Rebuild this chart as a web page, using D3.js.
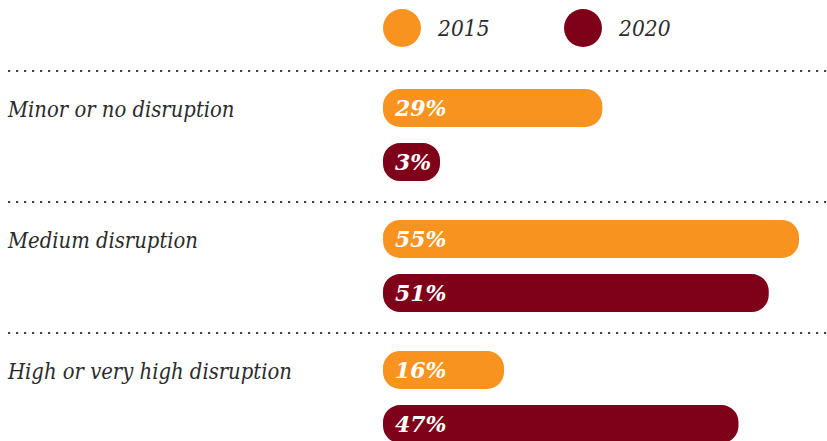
<!DOCTYPE html>
<html>
<head>
<meta charset="utf-8">
<script src="https://cdn.jsdelivr.net/npm/d3@7"></script>
<style>
  body { margin: 0; background: #fff; }
  svg text { font-family: "DejaVu Serif", serif; }
  svg text.cat { font-family: "DejaVu Serif Condensed", "DejaVu Serif", serif; font-stretch: condensed; }
</style>
</head>
<body>
<div id="chart"></div>
<script>
const categories = ["Minor or no disruption", "Medium disruption", "High or very high disruption"];
const years = ["2015", "2020"];
const values2015 = [29, 55, 16];
const values2020 = [3, 51, 47];

const colors = { "2015": "#f7931e", "2020": "#7f0019" };

const width = 827, height = 441;
const svg = d3.select("#chart").append("svg")
  .attr("width", width)
  .attr("height", height);

// rows start at each dotted divider
const y0 = d3.scaleBand()
  .domain(categories)
  .range([70, 70 + 131 * 3]);

const y1 = d3.scaleBand()
  .domain(years)
  .range([19, 111])
  .paddingInner(0.3);

const x = d3.scaleLinear()
  .domain([0, 55])
  .range([0, 416]);

const barX = 383;
const minBar = 57; // small bars still fit their label

// legend
const legend = svg.append("g")
  .selectAll("g")
  .data(years)
  .enter().append("g")
  .attr("transform", (d, i) => `translate(${402 + i * 181},28)`);

legend.append("circle")
  .attr("r", 19)
  .attr("fill", d => colors[d]);

legend.append("text")
  .attr("class", "cat")
  .attr("x", 36)
  .attr("y", 8)
  .attr("font-size", "22.5px")
  .attr("font-style", "italic")
  .attr("fill", "#2b2b2b")
  .text(d => d);

// dotted dividers
svg.selectAll(".divider")
  .data(categories)
  .enter().append("line")
  .attr("class", "divider")
  .attr("x1", 8)
  .attr("x2", width)
  .attr("y1", d => y0(d) + 1)
  .attr("y2", d => y0(d) + 1)
  .attr("stroke", "#444")
  .attr("stroke-width", 2.2)
  .attr("stroke-dasharray", "2.2 5.8");

const rows = svg.selectAll(".row")
  .data(categories.map((c, i) => ({
    name: c,
    bars: [
      { year: "2015", value: values2015[i] },
      { year: "2020", value: values2020[i] }
    ]
  })))
  .enter().append("g")
  .attr("class", "row")
  .attr("transform", d => `translate(0,${y0(d.name)})`);

rows.append("text")
  .attr("class", "cat")
  .attr("x", 8)
  .attr("y", y1("2015") + y1.bandwidth() / 2)
  .attr("dy", "0.4em")
  .attr("font-size", "21.8px")
  .attr("font-style", "italic")
  .attr("fill", "#2b2b2b")
  .text(d => d.name);

const bars = rows.selectAll(".bar")
  .data(d => d.bars)
  .enter().append("g")
  .attr("class", "bar")
  .attr("transform", d => `translate(${barX},${y1(d.year)})`);

bars.append("rect")
  .attr("width", d => Math.max(x(d.value), minBar))
  .attr("height", y1.bandwidth())
  .attr("rx", 17)
  .attr("ry", 17)
  .attr("fill", d => colors[d.year]);

bars.append("text")
  .attr("x", 12)
  .attr("y", y1.bandwidth() / 2)
  .attr("dy", "0.36em")
  .attr("font-size", "22px")
  .attr("font-style", "italic")
  .attr("font-weight", "bold")
  .attr("fill", "#fff")
  .text(d => d.value + "%");
</script>
</body>
</html>
